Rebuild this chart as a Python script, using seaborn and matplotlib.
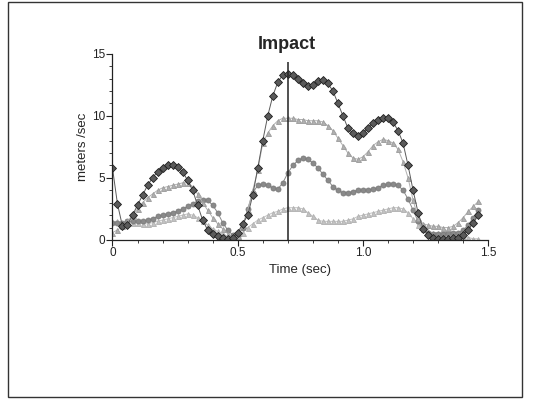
import numpy as np
import pandas as pd
import matplotlib
matplotlib.use("Agg")
import matplotlib.pyplot as plt
from matplotlib.patches import Rectangle
from matplotlib.ticker import MultipleLocator
import seaborn as sns

# sampling grid (sec)
time = np.round(np.arange(74) * 0.02, 2)

# velocities (m/s)
serie_a = [5.8, 2.9, 1.1, 1.2, 2.0, 2.8, 3.6, 4.4, 5.0, 5.5, 5.8, 6.0, 6.0, 5.9, 5.5, 4.8, 4.0, 2.8, 1.6, 0.8,
           0.5, 0.3, 0.2, 0.1, 0.2, 0.6, 1.3, 2.0, 3.6, 5.8, 8.0, 10.0, 11.6, 12.7, 13.3, 13.4, 13.3, 13.0, 12.6, 12.4,
           12.5, 12.8, 12.9, 12.6, 12.0, 11.0, 10.0, 9.0, 8.6, 8.4, 8.6, 9.0, 9.4, 9.7, 9.8, 9.8, 9.5, 8.8, 7.8, 6.0,
           4.0, 2.2, 0.9, 0.4, 0.2, 0.1, 0.1, 0.1, 0.2, 0.2, 0.4, 0.8, 1.4, 2.0]
serie_b = [0.6, 0.8, 1.1, 1.5, 2.0, 2.5, 3.0, 3.4, 3.7, 4.0, 4.2, 4.3, 4.4, 4.5, 4.6, 4.6, 4.3, 3.7, 3.0, 2.4,
           1.8, 1.3, 0.9, 0.5, 0.2, 0.3, 1.2, 2.4, 4.0, 5.6, 7.8, 8.6, 9.2, 9.6, 9.8, 9.8, 9.8, 9.7, 9.7, 9.6,
           9.6, 9.6, 9.5, 9.2, 8.8, 8.2, 7.6, 7.0, 6.6, 6.5, 6.7, 7.1, 7.6, 7.9, 8.1, 8.0, 7.8, 7.3, 6.3, 5.0,
           3.2, 1.8, 1.3, 1.2, 1.1, 1.1, 1.0, 1.0, 1.1, 1.4, 1.8, 2.3, 2.7, 3.1]
serie_c = [1.4, 1.4, 1.4, 1.5, 1.5, 1.5, 1.5, 1.6, 1.7, 1.9, 2.0, 2.1, 2.2, 2.3, 2.5, 2.7, 2.9, 3.1, 3.2, 3.2,
           2.8, 2.2, 1.4, 0.8, 0.4, 0.3, 1.0, 2.5, 3.8, 4.4, 4.5, 4.4, 4.2, 4.1, 4.6, 5.4, 6.0, 6.4, 6.6, 6.5,
           6.2, 5.8, 5.3, 4.8, 4.3, 4.0, 3.8, 3.8, 3.9, 4.0, 4.0, 4.0, 4.1, 4.2, 4.4, 4.5, 4.5, 4.4, 4.0, 3.3,
           2.4, 1.5, 0.9, 0.6, 0.5, 0.5, 0.5, 0.6, 0.6, 0.6, 0.8, 1.2, 1.8, 2.4]
serie_d = [1.5, 1.5, 1.4, 1.4, 1.4, 1.4, 1.3, 1.3, 1.4, 1.5, 1.6, 1.7, 1.8, 1.9, 2.0, 2.1, 2.0, 1.8, 1.5, 1.2,
           0.9, 0.7, 0.5, 0.3, 0.2, 0.3, 0.6, 1.0, 1.3, 1.6, 1.8, 2.0, 2.2, 2.3, 2.5, 2.6, 2.6, 2.6, 2.5, 2.2,
           1.9, 1.6, 1.5, 1.5, 1.5, 1.5, 1.5, 1.6, 1.7, 1.9, 2.0, 2.1, 2.2, 2.3, 2.4, 2.5, 2.6, 2.6, 2.5, 2.2,
           1.7, 1.2, 0.9, 0.7, 0.6, 0.6, 0.6, 0.6, 0.5, 0.4, 0.3, 0.2, 0.1, 0.1]

impact_time = 0.7
impact_top = 14.3

xticks = [0, 0.5, 1.0, 1.5]
xticklabels = ["0", "0.5", "1.0", "1.5"]
yticks = [0, 5, 10, 15]

df = pd.DataFrame({
    "t": np.tile(time, 4),
    "v": serie_a + serie_b + serie_c + serie_d,
    "serie": ["A"] * 74 + ["B"] * 74 + ["C"] * 74 + ["D"] * 74,
})

sns.set_style("white")
plt.rcParams["font.family"] = ["Liberation Sans", "DejaVu Sans"]

fig = plt.figure(figsize=(5.33, 3.99), dpi=100)
ax = fig.add_axes([0.211, 0.3985, 0.705, 0.467])

colores = {"A": "#5a5a5a", "B": "#b0b0b0", "C": "#8a8a8a", "D": "#c2c2c2"}
bordes = {"A": "#1e1e1e", "B": "#9a9a9a", "C": "#7a7a7a", "D": "#b0b0b0"}
marcas = {"A": "D", "B": "^", "C": "o", "D": "^"}
# draw lighter ones first so the dark series stays on top
for s in ["D", "C", "B", "A"]:
    sub = df[df["serie"] == s]
    sns.lineplot(data=sub, x="t", y="v", ax=ax, color=colores[s], marker=marcas[s],
                 markersize=3.6, markeredgewidth=0.6, markeredgecolor=bordes[s],
                 linewidth=0.7, legend=False)

ax.vlines(impact_time, 0, impact_top, color="#222222", linewidth=1.1)

ax.set_xlim(0, 1.5)
ax.set_ylim(0, 15)
ax.set_xticks(xticks)
ax.set_xticklabels(xticklabels)
ax.set_yticks(yticks)
ax.xaxis.set_minor_locator(MultipleLocator(0.1))
ax.yaxis.set_minor_locator(MultipleLocator(1))
ax.tick_params(which="major", direction="out", length=4, width=0.8, labelsize=8.5, colors="#222222", pad=1)
ax.tick_params(which="minor", direction="out", length=2, width=0.6, colors="#222222")
ax.tick_params(bottom=True, left=True, which="both")

sns.despine(ax=ax)
for side in ["left", "bottom"]:
    ax.spines[side].set_color("#222222")
    ax.spines[side].set_linewidth(0.9)

ax.set_xlabel("Time (sec)", fontsize=9.5, labelpad=4)
ax.set_ylabel("meters /sec", fontsize=9.5, labelpad=2)
ax.set_title("Impact", fontsize=13, fontweight="bold", pad=3, x=0.465)

# scanned page frame
fig.patches.append(Rectangle((8 / 533, 2 / 399), 514 / 533, 395 / 399, transform=fig.transFigure,
                             fill=False, edgecolor="#333333", linewidth=1.0))

fig.savefig("out.png", dpi=100)
